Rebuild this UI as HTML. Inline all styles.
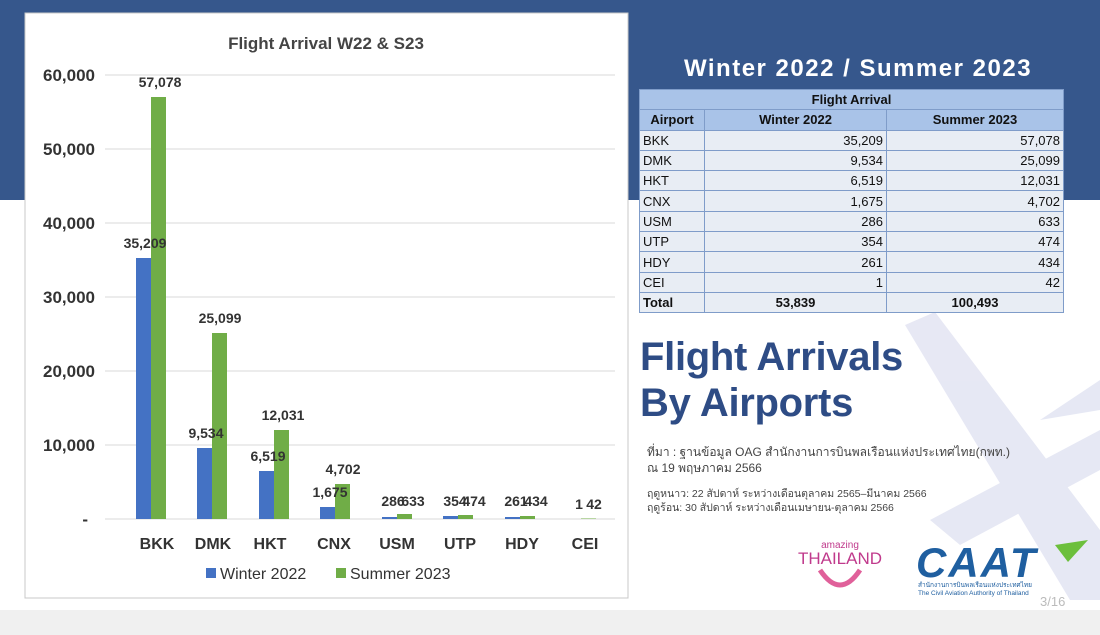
<!DOCTYPE html>
<html><head><meta charset="utf-8"><style>
body{margin:0;width:1100px;height:635px;overflow:hidden;background:#fff;font-family:"Liberation Sans","Noto Sans CJK SC",sans-serif;position:relative}
.band{position:absolute;left:0;top:0;width:1100px;height:200px;background:#36578c}
.gray{position:absolute;left:0;top:610px;width:1100px;height:25px;background:#f0f0f0}
table{position:absolute;left:639px;top:89px;border-collapse:collapse;font-size:13px;color:#111}
td{border:1.5px solid #7f9cc9;height:19.3px;padding:0 3px;background:#e8edf4}
.h td{background:#a9c3e8;font-weight:bold;text-align:center}
.r{text-align:right}
</style></head><body>
<div class="band"></div>
<div class="gray"></div>
<svg width="1100" height="635" style="position:absolute;left:0;top:0">
<g fill="#e4e6f3" opacity="0.9">
<polygon points="905,325 935,312 1100,530 1100,600 1070,600"/>
<polygon points="930,520 1100,430 1100,470 960,545"/>
<polygon points="1040,420 1100,380 1100,410"/>
</g>
<rect x="25" y="13" width="603" height="585" fill="#fff" stroke="#c8c8c8"/>
<text x="326" y="49" text-anchor="middle" font-size="17" font-weight="bold" fill="#444">Flight Arrival W22 &amp; S23</text>
<g stroke="#dadada" stroke-width="1">
<line x1="105" x2="615" y1="75" y2="75"/><line x1="105" x2="615" y1="149" y2="149"/><line x1="105" x2="615" y1="223" y2="223"/><line x1="105" x2="615" y1="297" y2="297"/><line x1="105" x2="615" y1="371" y2="371"/><line x1="105" x2="615" y1="445" y2="445"/><line x1="105" x2="615" y1="519" y2="519"/>
</g>
<g font-size="17" font-weight="bold" fill="#333" text-anchor="end">
<text x="95" y="81">60,000</text><text x="95" y="155">50,000</text><text x="95" y="229">40,000</text><text x="95" y="303">30,000</text><text x="95" y="377">20,000</text><text x="95" y="451">10,000</text><text x="88" y="525">-</text>
</g>
<g fill="#4472c4">
<rect x="136" y="258" width="15" height="261"/><rect x="197" y="448" width="15" height="71"/><rect x="259" y="471" width="15" height="48"/><rect x="320" y="507" width="15" height="12"/><rect x="382" y="517" width="15" height="2"/><rect x="443" y="516" width="15" height="3"/><rect x="505" y="517" width="15" height="2"/>
</g>
<g fill="#70ad47">
<rect x="151" y="97" width="15" height="422"/><rect x="212" y="333" width="15" height="186"/><rect x="274" y="430" width="15" height="89"/><rect x="335" y="484" width="15" height="35"/><rect x="397" y="514" width="15" height="5"/><rect x="458" y="515" width="15" height="4"/><rect x="520" y="516" width="15" height="3"/><rect x="581" y="518.5" width="15" height="0.5"/>
</g>
<g font-size="14" font-weight="bold" fill="#333" text-anchor="middle">
<text x="145" y="248">35,209</text><text x="160" y="87">57,078</text>
<text x="206" y="438">9,534</text><text x="220" y="323">25,099</text>
<text x="268" y="461">6,519</text><text x="283" y="420">12,031</text>
<text x="330" y="497">1,675</text><text x="343" y="474">4,702</text>
<text x="393" y="506">286</text><text x="413" y="506">633</text>
<text x="455" y="506">354</text><text x="474" y="506">474</text>
<text x="516" y="506">261</text><text x="536" y="506">434</text>
<text x="579" y="509">1</text><text x="594" y="509">42</text>
</g>
<g font-size="16" font-weight="bold" fill="#333" text-anchor="middle">
<text x="157" y="549">BKK</text><text x="213" y="549">DMK</text><text x="270" y="549">HKT</text><text x="334" y="549">CNX</text><text x="397" y="549">USM</text><text x="460" y="549">UTP</text><text x="522" y="549">HDY</text><text x="585" y="549">CEI</text>
</g>
<rect x="206" y="568" width="10" height="10" fill="#4472c4"/>
<text x="220" y="579" font-size="16" fill="#333">Winter 2022</text>
<rect x="336" y="568" width="10" height="10" fill="#70ad47"/>
<text x="350" y="579" font-size="16" fill="#333">Summer 2023</text>
<text x="858" y="76" text-anchor="middle" font-size="24" font-weight="bold" fill="#fff" letter-spacing="1.5">Winter 2022  / Summer 2023</text>
<text x="640" y="370" font-size="40" font-weight="bold" fill="#2e4c85" letter-spacing="-0.3">Flight Arrivals</text>
<text x="640" y="416" font-size="40" font-weight="bold" fill="#2e4c85" letter-spacing="-0.3">By Airports</text>
<g font-size="12" fill="#444">
<text x="647" y="456">ที่มา : ฐานข้อมูล OAG  สำนักงานการบินพลเรือนแห่งประเทศไทย(กพท.)</text>
<text x="647" y="472">ณ 19 พฤษภาคม 2566</text>
<text x="647" y="497" font-size="10.5">ฤดูหนาว: 22 สัปดาห์ ระหว่างเดือนตุลาคม 2565–มีนาคม 2566</text>
<text x="647" y="511" font-size="10.5">ฤดูร้อน: 30 สัปดาห์ ระหว่างเดือนเมษายน-ตุลาคม 2566</text>
</g>
<text x="840" y="548" text-anchor="middle" font-size="10" fill="#c03a8c">amazing</text>
<text x="840" y="564" text-anchor="middle" font-size="17" fill="#c03a8c">THAILAND</text>
<path d="M820,570 Q840,600 860,570" stroke="#e0609a" stroke-width="5" fill="none"/>
<text x="916" y="577" font-size="42" font-weight="bold" font-style="italic" fill="#1f5fa0" letter-spacing="2">CAAT</text>
<polygon points="1055,545 1088,540 1068,562" fill="#6cbf3c"/>
<text x="918" y="587" font-size="6.5" fill="#1f5fa0">สำนักงานการบินพลเรือนแห่งประเทศไทย</text>
<text x="918" y="595" font-size="6.5" fill="#1f5fa0">The Civil Aviation Authority of Thailand</text>
<text x="1040" y="606" font-size="13" fill="#bbb">3/16</text>
</svg>
<table>
<tr class="h"><td colspan="3" style="width:417px">Flight Arrival</td></tr>
<tr class="h"><td style="width:58px">Airport</td><td style="width:175px">Winter 2022</td><td>Summer 2023</td></tr>
<tr><td>BKK</td><td class="r">35,209</td><td class="r">57,078</td></tr>
<tr><td>DMK</td><td class="r">9,534</td><td class="r">25,099</td></tr>
<tr><td>HKT</td><td class="r">6,519</td><td class="r">12,031</td></tr>
<tr><td>CNX</td><td class="r">1,675</td><td class="r">4,702</td></tr>
<tr><td>USM</td><td class="r">286</td><td class="r">633</td></tr>
<tr><td>UTP</td><td class="r">354</td><td class="r">474</td></tr>
<tr><td>HDY</td><td class="r">261</td><td class="r">434</td></tr>
<tr><td>CEI</td><td class="r">1</td><td class="r">42</td></tr>
<tr><td style="font-weight:bold">Total</td><td style="font-weight:bold;text-align:center">53,839</td><td style="font-weight:bold;text-align:center">100,493</td></tr>
</table>
</body></html>
